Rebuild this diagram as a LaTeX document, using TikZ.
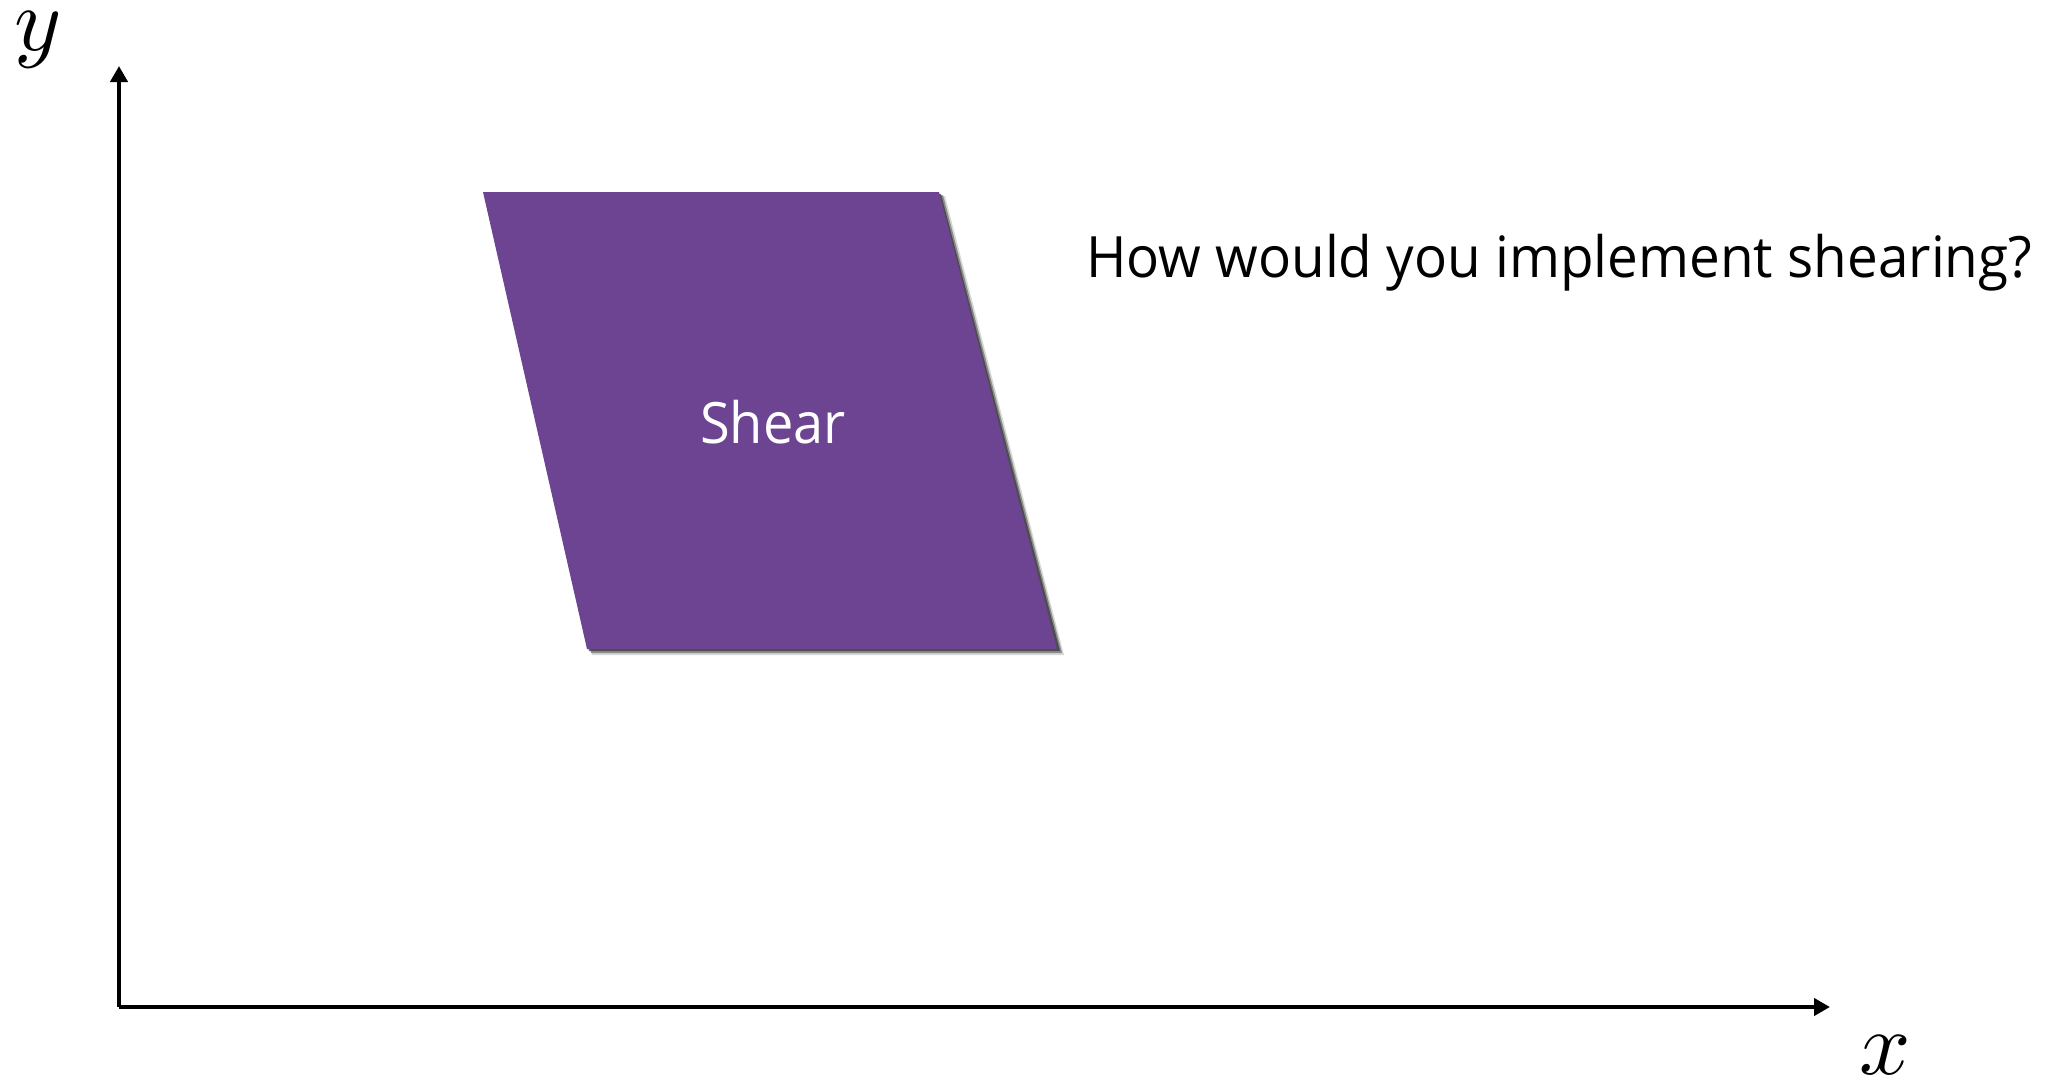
\documentclass[tikz,border=0pt]{standalone}
\usepackage{fontspec}
\setmainfont{Open Sans}
\usetikzlibrary{arrows.meta}
\definecolor{shearpurple}{RGB}{108,68,145}
\definecolor{shadowgray}{RGB}{50,50,50}
\tikzset{
  axisline/.style={line width=4pt, -{Triangle[length=16pt,width=17pt]}},
  mathlabel/.style={inner sep=0pt},
  bodytext/.style={inner sep=0pt, font=\fontsize{57}{68}\selectfont},
}
\begin{document}
\begin{tikzpicture}[x=1pt,y=-1pt]
\useasboundingbox (0,0) rectangle (2070,1084);
% axes
\coordinate (O) at (119,1007);
\coordinate (ytip) at (119,66);
\coordinate (xtip) at (1830,1007);
\draw[axisline] (O) -- (ytip);
\draw[axisline] (O) -- (xtip);
\node[mathlabel] (ylab) at (38,40) {\scalebox{9}{$y$}};
\node[mathlabel] (xlab) at (1885,1055) {\scalebox{9}{$x$}};
% shadow
\fill[shadowgray, opacity=0.2] (486,196) -- (945,196) -- (1064,655) -- (592,655) -- cycle;
\fill[shadowgray, opacity=0.45] (485,195) -- (943,195) -- (1062,653) -- (591,653) -- cycle;
\fill[shadowgray, opacity=0.7] (484,194) -- (941,194) -- (1060,651) -- (589,651) -- cycle;
% sheared shape
\fill[shearpurple] (483,192) -- (939,192) -- (1057,649) -- (587,649) -- cycle;
\node[bodytext, text=white, anchor=base west] (shear) at (700,443) {\scalebox{0.95}[1]{Shear}};
\node[bodytext, anchor=base west] (question) at (1086,277) {\scalebox{0.962}[1]{How would you implement shearing?}};
\end{tikzpicture}
\end{document}
